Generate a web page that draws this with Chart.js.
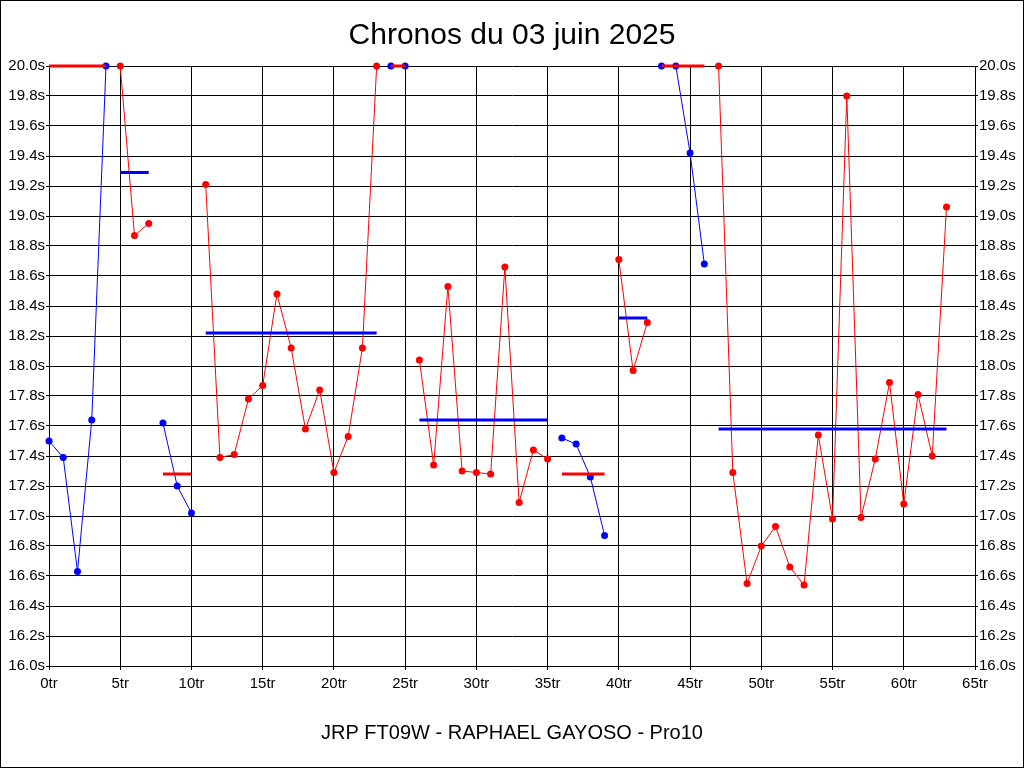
<!DOCTYPE html>
<html>
<head>
<meta charset="utf-8">
<script src="https://cdn.jsdelivr.net/npm/chart.js@4/dist/chart.umd.min.js"></script>
<style>
  html, body { margin: 0; padding: 0; background: #fff; }
  canvas { display: block; }
</style>
</head>
<body>
<canvas id="myChart" width="1024" height="768"></canvas>
<script>
// lap times in seconds, index = lap number (values above 20s are clipped at 20.0)
const lapTimes = [
  17.50, 17.39, 16.63, 17.64, 20.00,
  20.00, 18.87, 18.95,
  17.62, 17.20, 17.02,
  19.21, 17.39, 17.41, 17.78, 17.87, 18.48, 18.12, 17.58, 17.84, 17.29, 17.53, 18.12, 20.00,
  20.00, 20.00,
  18.04, 17.34, 18.53, 17.30, 17.29, 17.28, 18.66, 17.09, 17.44, 17.38,
  17.52, 17.48, 17.26, 16.87,
  18.71, 17.97, 18.29,
  20.00, 20.00, 19.42, 18.68,
  20.00, 17.29, 16.55, 16.80, 16.93, 16.66, 16.54, 17.54, 16.98, 19.80, 16.99, 17.38, 17.89, 17.08, 17.81, 17.40, 19.06
];

// stints: first lap, last lap, average line
const stintStart = [0, 5, 8, 11, 24, 26, 36, 40, 43, 47];
const stintEnd   = [4, 7, 10, 23, 25, 35, 39, 42, 46, 63];
const stintAvg   = [20.00, 19.29, 17.28, 18.22, 20.00, 17.64, 17.28, 18.32, 20.00, 17.58];

const yTicks = { min: 16, max: 20, step: 0.2 };
const xTicks = { min: 0, max: 65, step: 5 };

const titleText = "Chronos du 03 juin 2025";
const footerText = "JRP FT09W - RAPHAEL GAYOSO - Pro10";

const FONT = '"Liberation Sans", Arial, sans-serif';
const BLUE = '#0000ff';
const RED = '#ff0000';

const datasets = [];
stintStart.forEach((start, i) => {
  const col = i % 2 === 0 ? BLUE : RED;
  const avgCol = i % 2 === 0 ? RED : BLUE;
  const pts = [];
  for (let lap = start; lap <= stintEnd[i]; lap++) {
    pts.push({ x: lap, y: lapTimes[lap] });
  }
  datasets.push({
    data: pts,
    borderColor: col,
    backgroundColor: col,
    borderWidth: 1,
    pointRadius: 3.5,
    pointBorderWidth: 0,
    pointBackgroundColor: col,
    clip: false,
    order: 1
  });
  datasets.push({
    data: [{ x: start, y: stintAvg[i] }, { x: stintEnd[i], y: stintAvg[i] }],
    borderColor: avgCol,
    borderWidth: 3,
    pointRadius: 0,
    clip: false,
    order: 0
  });
});

const textPlugin = {
  id: 'texts',
  afterDraw(chart) {
    const ctx = chart.ctx;
    ctx.save();
    ctx.fillStyle = '#000';
    ctx.textAlign = 'center';
    ctx.textBaseline = 'middle';
    ctx.font = '30px ' + FONT;
    ctx.fillText(titleText, 512, 36);
    ctx.font = '20px ' + FONT;
    ctx.fillText(footerText, 512, 733);
    ctx.strokeStyle = '#000';
    ctx.lineWidth = 1;
    ctx.strokeRect(0.5, 0.5, 1023, 767);
    ctx.restore();
  }
};

const yTickOpts = {
  min: yTicks.min,
  max: yTicks.max,
  ticks: {
    stepSize: yTicks.step,
    color: '#000',
    padding: 1,
    font: { family: FONT, size: 15 },
    callback: v => v.toFixed(1) + 's'
  },
  border: { color: '#000', width: 1 }
};

new Chart(document.getElementById('myChart').getContext('2d'), {
  type: 'line',
  data: { datasets },
  options: {
    responsive: false,
    animation: false,
    devicePixelRatio: 1,
    layout: { padding: { top: 66, left: 0, right: 0, bottom: 0 } },
    plugins: {
      legend: { display: false },
      title: { display: false },
      tooltip: { enabled: false }
    },
    scales: {
      x: {
        type: 'linear',
        min: xTicks.min,
        max: xTicks.max,
        ticks: {
          stepSize: xTicks.step,
          color: '#000',
          padding: 5,
          maxRotation: 0,
          font: { family: FONT, size: 15 },
          callback: v => v + 'tr'
        },
        grid: { color: '#000', lineWidth: 1, tickLength: 4 },
        border: { color: '#000', width: 1 },
        afterFit: s => { s.height = 102; }
      },
      y: Object.assign({}, yTickOpts, {
        position: 'left',
        grid: { color: '#000', lineWidth: 1, tickLength: 3 },
        afterFit: s => { s.width = 49; }
      }),
      y2: Object.assign({}, yTickOpts, {
        position: 'right',
        grid: { drawOnChartArea: false, color: '#000', tickLength: 3 },
        afterFit: s => { s.width = 49; }
      })
    }
  },
  plugins: [textPlugin]
});
</script>
</body>
</html>
